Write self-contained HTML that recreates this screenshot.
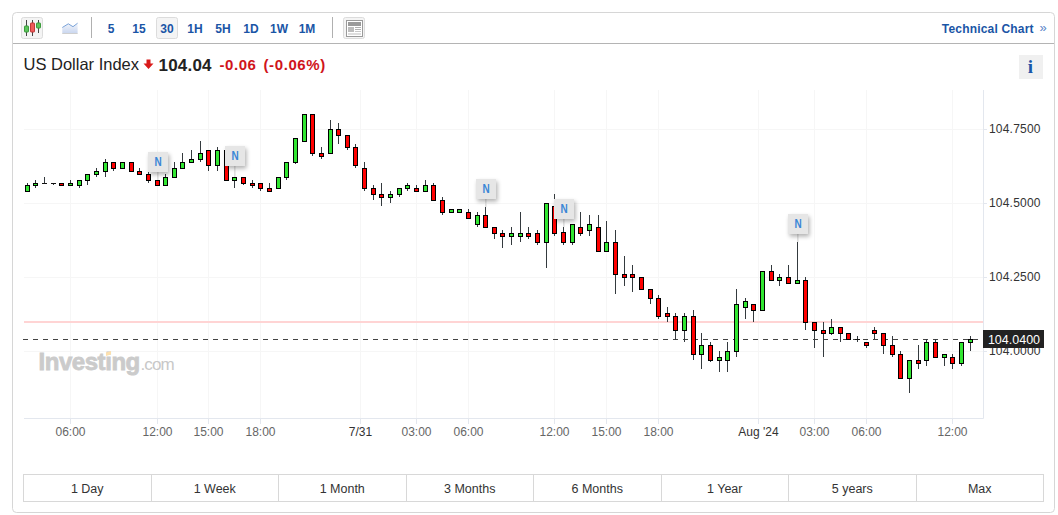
<!DOCTYPE html>
<html><head><meta charset="utf-8">
<style>
html,body{margin:0;padding:0;background:#fff;width:1058px;height:515px;overflow:hidden}
svg{display:block}
text{font-family:"Liberation Sans",sans-serif}
.tb{font-size:12px;font-weight:bold;fill:#1a55a6}
.nn{font-size:12.5px;font-weight:bold;fill:#3a86d6}
.tl{font-size:12px;fill:#666}
.tld{font-size:12px;fill:#333}
.pl{font-size:12px;fill:#333;letter-spacing:0.2px}
.bt{font-size:12.5px;fill:#333}
</style></head>
<body>
<svg width="1058" height="515" viewBox="0 0 1058 515">
<defs>
<filter id="blur" x="-30%" y="-30%" width="160%" height="160%"><feGaussianBlur stdDeviation="2"/></filter>
<linearGradient id="ag" x1="0" y1="0" x2="0" y2="1"><stop offset="0" stop-color="#f2f5fb"/><stop offset="1" stop-color="#c9d6ef"/></linearGradient>
</defs>
<!-- container -->
<rect x="12.5" y="12.5" width="1042" height="500" rx="4" fill="#fff" stroke="#d6d6d6"/>
<line x1="13" y1="43.5" x2="1054" y2="43.5" stroke="#b4b4b4"/>

<!-- toolbar: candle icon -->
<rect x="21.5" y="17.5" width="21" height="21" rx="2" fill="#f4f4f4" stroke="#dcdcdc"/>
<rect x="26" y="20" width="1" height="16" fill="#444"/>
<rect x="24.5" y="26" width="4" height="6" rx="0.5" fill="#5cc45c" stroke="#3c9c3c"/>
<rect x="32" y="20" width="1" height="16" fill="#444"/>
<rect x="30.5" y="23" width="4" height="9" rx="0.5" fill="#f05a5a" stroke="#c03a3a"/>
<rect x="38" y="20" width="1" height="13" fill="#444"/>
<rect x="36.5" y="23" width="4" height="5" rx="0.5" fill="#5cc45c" stroke="#3c9c3c"/>

<!-- area icon -->
<path d="M62.3 27.5 L68.3 23.8 L73 26.7 L77.6 23.2 L77.6 33.5 L62.3 33.5 Z" fill="url(#ag)"/>
<polyline points="62.3,27.5 68.3,23.8 73,26.7 77.6,23.2" fill="none" stroke="#7aa2d8" stroke-width="1"/>
<rect x="62.3" y="33" width="15.3" height="1" fill="#cfcfcf"/>

<rect x="91" y="17" width="1" height="21" fill="#b0b0b0"/>

<text x="111" y="33" text-anchor="middle" class="tb">5</text>
<text x="139" y="33" text-anchor="middle" class="tb">15</text>
<rect x="156.5" y="17.5" width="21" height="21" rx="2" fill="#f4f4f4" stroke="#dcdcdc"/>
<text x="167" y="33" text-anchor="middle" class="tb">30</text>
<text x="195" y="33" text-anchor="middle" class="tb">1H</text>
<text x="223" y="33" text-anchor="middle" class="tb">5H</text>
<text x="251" y="33" text-anchor="middle" class="tb">1D</text>
<text x="279" y="33" text-anchor="middle" class="tb">1W</text>
<text x="307" y="33" text-anchor="middle" class="tb">1M</text>

<rect x="332" y="17" width="1" height="21" fill="#b0b0b0"/>

<!-- layout icon -->
<rect x="343.5" y="17.5" width="21" height="21" rx="2" fill="#f4f4f4" stroke="#dcdcdc"/>
<rect x="346.5" y="20.5" width="16" height="16" fill="#fff" stroke="#9a9a9a"/>
<rect x="348" y="22" width="13" height="4" fill="#9a9a9a"/>
<rect x="348" y="27" width="6" height="5" fill="#bdbdbd"/>
<rect x="355" y="27" width="6" height="1" fill="#b0b0b0"/>
<rect x="355" y="29" width="6" height="1" fill="#b0b0b0"/>
<rect x="355" y="31" width="6" height="1" fill="#c8c8c8"/>
<rect x="348" y="33" width="13" height="2" fill="#dedede"/>

<text x="1033.7" y="33" text-anchor="end" class="tb" style="letter-spacing:0.18px">Technical Chart</text>
<text x="1043" y="32" text-anchor="middle" style="font-size:13px;fill:#5a86c8">»</text>

<!-- title -->
<text x="23.5" y="70" style="font-size:16.5px;fill:#222;letter-spacing:0px">US Dollar Index</text>
<path d="M146.5 59.5 H150.5 V63.5 H153.5 L148.5 69 L143.5 63.5 H146.5 Z" fill="#d91a1a"/>
<text x="158.5" y="70.5" style="font-size:17px;font-weight:bold;fill:#222;letter-spacing:0.2px">104.04</text>
<text x="219.5" y="70" style="font-size:15px;font-weight:bold;fill:#d0141b;letter-spacing:0.55px">-0.06</text>
<text x="263.5" y="70" style="font-size:15px;font-weight:bold;fill:#d0141b;letter-spacing:0.6px">(-0.06%)</text>

<rect x="1019" y="55" width="24" height="24" fill="#f0f0f0"/>
<text x="1030.5" y="73" text-anchor="middle" style="font-family:'Liberation Serif',serif;font-size:19px;font-weight:bold;fill:#1b56a8">i</text>

<!-- chart grid -->
<line x1="70.5" y1="90" x2="70.5" y2="418" stroke="#f6f6f6" stroke-width="1"/>
<line x1="70.5" y1="418" x2="70.5" y2="424" stroke="#e3e7ee" stroke-width="1"/>
<line x1="157.5" y1="90" x2="157.5" y2="418" stroke="#f6f6f6" stroke-width="1"/>
<line x1="157.5" y1="418" x2="157.5" y2="424" stroke="#e3e7ee" stroke-width="1"/>
<line x1="208.5" y1="90" x2="208.5" y2="418" stroke="#f6f6f6" stroke-width="1"/>
<line x1="208.5" y1="418" x2="208.5" y2="424" stroke="#e3e7ee" stroke-width="1"/>
<line x1="260.5" y1="90" x2="260.5" y2="418" stroke="#f6f6f6" stroke-width="1"/>
<line x1="260.5" y1="418" x2="260.5" y2="424" stroke="#e3e7ee" stroke-width="1"/>
<line x1="360.5" y1="90" x2="360.5" y2="418" stroke="#f6f6f6" stroke-width="1"/>
<line x1="360.5" y1="418" x2="360.5" y2="424" stroke="#e3e7ee" stroke-width="1"/>
<line x1="416.5" y1="90" x2="416.5" y2="418" stroke="#f6f6f6" stroke-width="1"/>
<line x1="416.5" y1="418" x2="416.5" y2="424" stroke="#e3e7ee" stroke-width="1"/>
<line x1="468.5" y1="90" x2="468.5" y2="418" stroke="#f6f6f6" stroke-width="1"/>
<line x1="468.5" y1="418" x2="468.5" y2="424" stroke="#e3e7ee" stroke-width="1"/>
<line x1="554.5" y1="90" x2="554.5" y2="418" stroke="#f6f6f6" stroke-width="1"/>
<line x1="554.5" y1="418" x2="554.5" y2="424" stroke="#e3e7ee" stroke-width="1"/>
<line x1="606.5" y1="90" x2="606.5" y2="418" stroke="#f6f6f6" stroke-width="1"/>
<line x1="606.5" y1="418" x2="606.5" y2="424" stroke="#e3e7ee" stroke-width="1"/>
<line x1="658.5" y1="90" x2="658.5" y2="418" stroke="#f6f6f6" stroke-width="1"/>
<line x1="658.5" y1="418" x2="658.5" y2="424" stroke="#e3e7ee" stroke-width="1"/>
<line x1="758.5" y1="90" x2="758.5" y2="418" stroke="#f6f6f6" stroke-width="1"/>
<line x1="758.5" y1="418" x2="758.5" y2="424" stroke="#e3e7ee" stroke-width="1"/>
<line x1="814.5" y1="90" x2="814.5" y2="418" stroke="#f6f6f6" stroke-width="1"/>
<line x1="814.5" y1="418" x2="814.5" y2="424" stroke="#e3e7ee" stroke-width="1"/>
<line x1="866.5" y1="90" x2="866.5" y2="418" stroke="#f6f6f6" stroke-width="1"/>
<line x1="866.5" y1="418" x2="866.5" y2="424" stroke="#e3e7ee" stroke-width="1"/>
<line x1="952.5" y1="90" x2="952.5" y2="418" stroke="#f6f6f6" stroke-width="1"/>
<line x1="952.5" y1="418" x2="952.5" y2="424" stroke="#e3e7ee" stroke-width="1"/>
<line x1="24" y1="129.5" x2="983" y2="129.5" stroke="#f6f6f6" stroke-width="1"/>
<line x1="983" y1="129.5" x2="987" y2="129.5" stroke="#e3e7ee" stroke-width="1"/>
<line x1="24" y1="203.5" x2="983" y2="203.5" stroke="#f6f6f6" stroke-width="1"/>
<line x1="983" y1="203.5" x2="987" y2="203.5" stroke="#e3e7ee" stroke-width="1"/>
<line x1="24" y1="277.5" x2="983" y2="277.5" stroke="#f6f6f6" stroke-width="1"/>
<line x1="983" y1="277.5" x2="987" y2="277.5" stroke="#e3e7ee" stroke-width="1"/>
<line x1="24" y1="351.5" x2="983" y2="351.5" stroke="#f6f6f6" stroke-width="1"/>
<line x1="983" y1="351.5" x2="987" y2="351.5" stroke="#e3e7ee" stroke-width="1"/>
<line x1="24" y1="418.5" x2="983.5" y2="418.5" stroke="#e3e7ee"/>
<line x1="983.5" y1="90" x2="983.5" y2="418.5" stroke="#e3e7ee"/>

<!-- watermark -->
<text x="38.5" y="370" style="font-size:24px;font-weight:bold;fill:#cbcbcb;stroke:#cbcbcb;stroke-width:0.8px;letter-spacing:-0.45px">Investing</text>
<text x="140.5" y="370" style="font-size:17px;fill:#c8c8c8;letter-spacing:-0.9px">.com</text>

<polygon points="106,352.8 111,351 111,354.4 106,356" fill="#fde0ad"/>
<!-- pink line -->
<line x1="24" y1="322" x2="983" y2="322" stroke="#ffd4d4" stroke-width="2"/>

<line x1="23" y1="339.5" x2="978" y2="339.5" stroke="#444" stroke-dasharray="5,5"/>

<g shape-rendering="crispEdges">
<rect x="27" y="183" width="1" height="9" fill="#343a3e"/>
<rect x="25" y="185" width="5" height="7" fill="#000"/>
<rect x="26" y="186" width="3" height="5" fill="#32e632"/>
<rect x="35" y="180" width="1" height="8" fill="#343a3e"/>
<rect x="33" y="183" width="5" height="3" fill="#000"/>
<rect x="34" y="184" width="3" height="1" fill="#32e632"/>
<rect x="44" y="177" width="1" height="7" fill="#343a3e"/>
<rect x="42" y="183" width="5" height="1" fill="#111"/>
<rect x="53" y="184" width="1" height="1" fill="#343a3e"/>
<rect x="51" y="183" width="5" height="1" fill="#111"/>
<rect x="61" y="183" width="1" height="3" fill="#343a3e"/>
<rect x="59" y="183" width="5" height="3" fill="#000"/>
<rect x="60" y="184" width="3" height="1" fill="#ff0000"/>
<rect x="70" y="180" width="1" height="6" fill="#343a3e"/>
<rect x="68" y="183" width="5" height="3" fill="#000"/>
<rect x="69" y="184" width="3" height="1" fill="#32e632"/>
<rect x="79" y="180" width="1" height="8" fill="#343a3e"/>
<rect x="77" y="180" width="5" height="6" fill="#000"/>
<rect x="78" y="181" width="3" height="4" fill="#32e632"/>
<rect x="87" y="174" width="1" height="11" fill="#343a3e"/>
<rect x="85" y="174" width="5" height="7" fill="#000"/>
<rect x="86" y="175" width="3" height="5" fill="#32e632"/>
<rect x="96" y="168" width="1" height="9" fill="#343a3e"/>
<rect x="94" y="171" width="5" height="4" fill="#000"/>
<rect x="95" y="172" width="3" height="2" fill="#32e632"/>
<rect x="105" y="159" width="1" height="18" fill="#343a3e"/>
<rect x="103" y="162" width="5" height="10" fill="#000"/>
<rect x="104" y="163" width="3" height="8" fill="#32e632"/>
<rect x="113" y="162" width="1" height="9" fill="#343a3e"/>
<rect x="111" y="162" width="5" height="7" fill="#000"/>
<rect x="112" y="163" width="3" height="5" fill="#ff0000"/>
<rect x="122" y="162" width="1" height="7" fill="#343a3e"/>
<rect x="120" y="162" width="5" height="7" fill="#000"/>
<rect x="121" y="163" width="3" height="5" fill="#32e632"/>
<rect x="131" y="162" width="1" height="10" fill="#343a3e"/>
<rect x="129" y="162" width="5" height="10" fill="#000"/>
<rect x="130" y="163" width="3" height="8" fill="#ff0000"/>
<rect x="139" y="168" width="1" height="7" fill="#343a3e"/>
<rect x="137" y="171" width="5" height="4" fill="#000"/>
<rect x="138" y="172" width="3" height="2" fill="#ff0000"/>
<rect x="148" y="172" width="1" height="11" fill="#343a3e"/>
<rect x="146" y="174" width="5" height="7" fill="#000"/>
<rect x="147" y="175" width="3" height="5" fill="#ff0000"/>
<rect x="157" y="180" width="1" height="6" fill="#343a3e"/>
<rect x="155" y="180" width="5" height="6" fill="#000"/>
<rect x="156" y="181" width="3" height="4" fill="#ff0000"/>
<rect x="165" y="174" width="1" height="12" fill="#343a3e"/>
<rect x="163" y="177" width="5" height="9" fill="#000"/>
<rect x="164" y="178" width="3" height="7" fill="#32e632"/>
<rect x="174" y="162" width="1" height="15" fill="#343a3e"/>
<rect x="172" y="168" width="5" height="10" fill="#000"/>
<rect x="173" y="169" width="3" height="8" fill="#32e632"/>
<rect x="182" y="153" width="1" height="16" fill="#343a3e"/>
<rect x="180" y="162" width="5" height="7" fill="#000"/>
<rect x="181" y="163" width="3" height="5" fill="#32e632"/>
<rect x="191" y="150" width="1" height="13" fill="#343a3e"/>
<rect x="189" y="159" width="5" height="4" fill="#000"/>
<rect x="190" y="160" width="3" height="2" fill="#32e632"/>
<rect x="200" y="141" width="1" height="21" fill="#343a3e"/>
<rect x="198" y="153" width="5" height="7" fill="#000"/>
<rect x="199" y="154" width="3" height="5" fill="#32e632"/>
<rect x="208" y="150" width="1" height="21" fill="#343a3e"/>
<rect x="206" y="150" width="5" height="16" fill="#000"/>
<rect x="207" y="151" width="3" height="14" fill="#ff0000"/>
<rect x="217" y="147" width="1" height="24" fill="#343a3e"/>
<rect x="215" y="150" width="5" height="16" fill="#000"/>
<rect x="216" y="151" width="3" height="14" fill="#32e632"/>
<rect x="226" y="150" width="1" height="30" fill="#343a3e"/>
<rect x="224" y="150" width="5" height="31" fill="#000"/>
<rect x="225" y="151" width="3" height="29" fill="#ff0000"/>
<rect x="234" y="174" width="1" height="14" fill="#343a3e"/>
<rect x="232" y="177" width="5" height="4" fill="#000"/>
<rect x="233" y="178" width="3" height="2" fill="#32e632"/>
<rect x="243" y="177" width="1" height="8" fill="#343a3e"/>
<rect x="241" y="177" width="5" height="7" fill="#000"/>
<rect x="242" y="178" width="3" height="5" fill="#ff0000"/>
<rect x="252" y="180" width="1" height="8" fill="#343a3e"/>
<rect x="250" y="183" width="5" height="3" fill="#000"/>
<rect x="251" y="184" width="3" height="1" fill="#ff0000"/>
<rect x="260" y="183" width="1" height="8" fill="#343a3e"/>
<rect x="258" y="183" width="5" height="6" fill="#000"/>
<rect x="259" y="184" width="3" height="4" fill="#ff0000"/>
<rect x="269" y="183" width="1" height="9" fill="#343a3e"/>
<rect x="267" y="188" width="5" height="4" fill="#000"/>
<rect x="268" y="189" width="3" height="2" fill="#ff0000"/>
<rect x="278" y="177" width="1" height="12" fill="#343a3e"/>
<rect x="276" y="177" width="5" height="12" fill="#000"/>
<rect x="277" y="178" width="3" height="10" fill="#32e632"/>
<rect x="286" y="162" width="1" height="18" fill="#343a3e"/>
<rect x="284" y="162" width="5" height="16" fill="#000"/>
<rect x="285" y="163" width="3" height="14" fill="#32e632"/>
<rect x="295" y="138" width="1" height="26" fill="#343a3e"/>
<rect x="293" y="138" width="5" height="25" fill="#000"/>
<rect x="294" y="139" width="3" height="23" fill="#32e632"/>
<rect x="304" y="114" width="1" height="28" fill="#343a3e"/>
<rect x="302" y="114" width="5" height="28" fill="#000"/>
<rect x="303" y="115" width="3" height="26" fill="#32e632"/>
<rect x="312" y="114" width="1" height="42" fill="#343a3e"/>
<rect x="310" y="114" width="5" height="40" fill="#000"/>
<rect x="311" y="115" width="3" height="38" fill="#ff0000"/>
<rect x="321" y="147" width="1" height="12" fill="#343a3e"/>
<rect x="319" y="153" width="5" height="4" fill="#000"/>
<rect x="320" y="154" width="3" height="2" fill="#ff0000"/>
<rect x="330" y="120" width="1" height="34" fill="#343a3e"/>
<rect x="328" y="129" width="5" height="25" fill="#000"/>
<rect x="329" y="130" width="3" height="23" fill="#32e632"/>
<rect x="338" y="123" width="1" height="21" fill="#343a3e"/>
<rect x="336" y="129" width="5" height="7" fill="#000"/>
<rect x="337" y="130" width="3" height="5" fill="#ff0000"/>
<rect x="347" y="135" width="1" height="15" fill="#343a3e"/>
<rect x="345" y="135" width="5" height="13" fill="#000"/>
<rect x="346" y="136" width="3" height="11" fill="#ff0000"/>
<rect x="355" y="144" width="1" height="24" fill="#343a3e"/>
<rect x="353" y="147" width="5" height="19" fill="#000"/>
<rect x="354" y="148" width="3" height="17" fill="#ff0000"/>
<rect x="364" y="162" width="1" height="29" fill="#343a3e"/>
<rect x="362" y="168" width="5" height="21" fill="#000"/>
<rect x="363" y="169" width="3" height="19" fill="#ff0000"/>
<rect x="373" y="185" width="1" height="15" fill="#343a3e"/>
<rect x="371" y="188" width="5" height="7" fill="#000"/>
<rect x="372" y="189" width="3" height="5" fill="#ff0000"/>
<rect x="381" y="183" width="1" height="23" fill="#343a3e"/>
<rect x="379" y="194" width="5" height="4" fill="#000"/>
<rect x="380" y="195" width="3" height="2" fill="#ff0000"/>
<rect x="390" y="191" width="1" height="12" fill="#343a3e"/>
<rect x="388" y="194" width="5" height="4" fill="#000"/>
<rect x="389" y="195" width="3" height="2" fill="#32e632"/>
<rect x="399" y="188" width="1" height="9" fill="#343a3e"/>
<rect x="397" y="188" width="5" height="7" fill="#000"/>
<rect x="398" y="189" width="3" height="5" fill="#32e632"/>
<rect x="407" y="183" width="1" height="8" fill="#343a3e"/>
<rect x="405" y="185" width="5" height="4" fill="#000"/>
<rect x="406" y="186" width="3" height="2" fill="#32e632"/>
<rect x="416" y="185" width="1" height="7" fill="#343a3e"/>
<rect x="414" y="188" width="5" height="4" fill="#000"/>
<rect x="415" y="189" width="3" height="2" fill="#ff0000"/>
<rect x="425" y="180" width="1" height="12" fill="#343a3e"/>
<rect x="423" y="185" width="5" height="7" fill="#000"/>
<rect x="424" y="186" width="3" height="5" fill="#32e632"/>
<rect x="433" y="183" width="1" height="18" fill="#343a3e"/>
<rect x="431" y="185" width="5" height="16" fill="#000"/>
<rect x="432" y="186" width="3" height="14" fill="#ff0000"/>
<rect x="442" y="197" width="1" height="18" fill="#343a3e"/>
<rect x="440" y="200" width="5" height="13" fill="#000"/>
<rect x="441" y="201" width="3" height="11" fill="#ff0000"/>
<rect x="451" y="209" width="1" height="4" fill="#343a3e"/>
<rect x="449" y="209" width="5" height="4" fill="#000"/>
<rect x="450" y="210" width="3" height="2" fill="#32e632"/>
<rect x="459" y="209" width="1" height="4" fill="#343a3e"/>
<rect x="457" y="209" width="5" height="4" fill="#000"/>
<rect x="458" y="210" width="3" height="2" fill="#32e632"/>
<rect x="468" y="209" width="1" height="10" fill="#343a3e"/>
<rect x="466" y="212" width="5" height="7" fill="#000"/>
<rect x="467" y="213" width="3" height="5" fill="#ff0000"/>
<rect x="477" y="212" width="1" height="15" fill="#343a3e"/>
<rect x="475" y="215" width="5" height="10" fill="#000"/>
<rect x="476" y="216" width="3" height="8" fill="#32e632"/>
<rect x="485" y="207" width="1" height="21" fill="#343a3e"/>
<rect x="483" y="215" width="5" height="13" fill="#000"/>
<rect x="484" y="216" width="3" height="11" fill="#ff0000"/>
<rect x="494" y="228" width="1" height="11" fill="#343a3e"/>
<rect x="492" y="227" width="5" height="7" fill="#000"/>
<rect x="493" y="228" width="3" height="5" fill="#ff0000"/>
<rect x="502" y="230" width="1" height="18" fill="#343a3e"/>
<rect x="500" y="233" width="5" height="4" fill="#000"/>
<rect x="501" y="234" width="3" height="2" fill="#ff0000"/>
<rect x="511" y="227" width="1" height="18" fill="#343a3e"/>
<rect x="509" y="233" width="5" height="4" fill="#000"/>
<rect x="510" y="234" width="3" height="2" fill="#32e632"/>
<rect x="520" y="212" width="1" height="30" fill="#343a3e"/>
<rect x="518" y="233" width="5" height="4" fill="#000"/>
<rect x="519" y="234" width="3" height="2" fill="#32e632"/>
<rect x="528" y="227" width="1" height="12" fill="#343a3e"/>
<rect x="526" y="233" width="5" height="4" fill="#000"/>
<rect x="527" y="234" width="3" height="2" fill="#ff0000"/>
<rect x="537" y="230" width="1" height="15" fill="#343a3e"/>
<rect x="535" y="233" width="5" height="10" fill="#000"/>
<rect x="536" y="234" width="3" height="8" fill="#ff0000"/>
<rect x="546" y="203" width="1" height="65" fill="#343a3e"/>
<rect x="544" y="203" width="5" height="40" fill="#000"/>
<rect x="545" y="204" width="3" height="38" fill="#32e632"/>
<rect x="554" y="194" width="1" height="42" fill="#343a3e"/>
<rect x="552" y="206" width="5" height="28" fill="#000"/>
<rect x="553" y="207" width="3" height="26" fill="#ff0000"/>
<rect x="563" y="227" width="1" height="18" fill="#343a3e"/>
<rect x="561" y="232" width="5" height="11" fill="#000"/>
<rect x="562" y="233" width="3" height="9" fill="#ff0000"/>
<rect x="572" y="224" width="1" height="21" fill="#343a3e"/>
<rect x="570" y="224" width="5" height="19" fill="#000"/>
<rect x="571" y="225" width="3" height="17" fill="#32e632"/>
<rect x="580" y="212" width="1" height="24" fill="#343a3e"/>
<rect x="578" y="227" width="5" height="7" fill="#000"/>
<rect x="579" y="228" width="3" height="5" fill="#ff0000"/>
<rect x="589" y="215" width="1" height="21" fill="#343a3e"/>
<rect x="587" y="224" width="5" height="7" fill="#000"/>
<rect x="588" y="225" width="3" height="5" fill="#32e632"/>
<rect x="598" y="215" width="1" height="37" fill="#343a3e"/>
<rect x="596" y="227" width="5" height="25" fill="#000"/>
<rect x="597" y="228" width="3" height="23" fill="#ff0000"/>
<rect x="606" y="221" width="1" height="31" fill="#343a3e"/>
<rect x="604" y="242" width="5" height="10" fill="#000"/>
<rect x="605" y="243" width="3" height="8" fill="#32e632"/>
<rect x="615" y="230" width="1" height="64" fill="#343a3e"/>
<rect x="613" y="242" width="5" height="33" fill="#000"/>
<rect x="614" y="243" width="3" height="31" fill="#ff0000"/>
<rect x="624" y="256" width="1" height="30" fill="#343a3e"/>
<rect x="622" y="274" width="5" height="4" fill="#000"/>
<rect x="623" y="275" width="3" height="2" fill="#ff0000"/>
<rect x="632" y="265" width="1" height="27" fill="#343a3e"/>
<rect x="630" y="274" width="5" height="4" fill="#000"/>
<rect x="631" y="275" width="3" height="2" fill="#ff0000"/>
<rect x="641" y="277" width="1" height="12" fill="#343a3e"/>
<rect x="639" y="277" width="5" height="13" fill="#000"/>
<rect x="640" y="278" width="3" height="11" fill="#ff0000"/>
<rect x="650" y="289" width="1" height="15" fill="#343a3e"/>
<rect x="648" y="289" width="5" height="10" fill="#000"/>
<rect x="649" y="290" width="3" height="8" fill="#ff0000"/>
<rect x="658" y="295" width="1" height="24" fill="#343a3e"/>
<rect x="656" y="298" width="5" height="19" fill="#000"/>
<rect x="657" y="299" width="3" height="17" fill="#ff0000"/>
<rect x="667" y="307" width="1" height="15" fill="#343a3e"/>
<rect x="665" y="313" width="5" height="4" fill="#000"/>
<rect x="666" y="314" width="3" height="2" fill="#ff0000"/>
<rect x="675" y="313" width="1" height="27" fill="#343a3e"/>
<rect x="673" y="316" width="5" height="15" fill="#000"/>
<rect x="674" y="317" width="3" height="13" fill="#ff0000"/>
<rect x="684" y="313" width="1" height="29" fill="#343a3e"/>
<rect x="682" y="316" width="5" height="15" fill="#000"/>
<rect x="683" y="317" width="3" height="13" fill="#32e632"/>
<rect x="693" y="310" width="1" height="50" fill="#343a3e"/>
<rect x="691" y="316" width="5" height="39" fill="#000"/>
<rect x="692" y="317" width="3" height="37" fill="#ff0000"/>
<rect x="701" y="333" width="1" height="36" fill="#343a3e"/>
<rect x="699" y="345" width="5" height="10" fill="#000"/>
<rect x="700" y="346" width="3" height="8" fill="#32e632"/>
<rect x="710" y="342" width="1" height="20" fill="#343a3e"/>
<rect x="708" y="345" width="5" height="16" fill="#000"/>
<rect x="709" y="346" width="3" height="14" fill="#ff0000"/>
<rect x="719" y="351" width="1" height="21" fill="#343a3e"/>
<rect x="717" y="357" width="5" height="4" fill="#000"/>
<rect x="718" y="358" width="3" height="2" fill="#32e632"/>
<rect x="727" y="342" width="1" height="30" fill="#343a3e"/>
<rect x="725" y="351" width="5" height="10" fill="#000"/>
<rect x="726" y="352" width="3" height="8" fill="#32e632"/>
<rect x="736" y="289" width="1" height="68" fill="#343a3e"/>
<rect x="734" y="304" width="5" height="48" fill="#000"/>
<rect x="735" y="305" width="3" height="46" fill="#32e632"/>
<rect x="745" y="298" width="1" height="21" fill="#343a3e"/>
<rect x="743" y="301" width="5" height="7" fill="#000"/>
<rect x="744" y="302" width="3" height="5" fill="#32e632"/>
<rect x="753" y="304" width="1" height="18" fill="#343a3e"/>
<rect x="751" y="304" width="5" height="7" fill="#000"/>
<rect x="752" y="305" width="3" height="5" fill="#ff0000"/>
<rect x="762" y="271" width="1" height="40" fill="#343a3e"/>
<rect x="760" y="271" width="5" height="40" fill="#000"/>
<rect x="761" y="272" width="3" height="38" fill="#32e632"/>
<rect x="771" y="265" width="1" height="16" fill="#343a3e"/>
<rect x="769" y="271" width="5" height="10" fill="#000"/>
<rect x="770" y="272" width="3" height="8" fill="#ff0000"/>
<rect x="779" y="274" width="1" height="12" fill="#343a3e"/>
<rect x="777" y="277" width="5" height="4" fill="#000"/>
<rect x="778" y="278" width="3" height="2" fill="#32e632"/>
<rect x="788" y="265" width="1" height="19" fill="#343a3e"/>
<rect x="786" y="277" width="5" height="7" fill="#000"/>
<rect x="787" y="278" width="3" height="5" fill="#ff0000"/>
<rect x="797" y="242" width="1" height="41" fill="#343a3e"/>
<rect x="795" y="280" width="5" height="4" fill="#000"/>
<rect x="796" y="281" width="3" height="2" fill="#32e632"/>
<rect x="805" y="277" width="1" height="53" fill="#343a3e"/>
<rect x="803" y="280" width="5" height="43" fill="#000"/>
<rect x="804" y="281" width="3" height="41" fill="#ff0000"/>
<rect x="814" y="322" width="1" height="26" fill="#343a3e"/>
<rect x="812" y="322" width="5" height="9" fill="#000"/>
<rect x="813" y="323" width="3" height="7" fill="#ff0000"/>
<rect x="823" y="322" width="1" height="35" fill="#343a3e"/>
<rect x="821" y="330" width="5" height="4" fill="#000"/>
<rect x="822" y="331" width="3" height="2" fill="#ff0000"/>
<rect x="831" y="319" width="1" height="16" fill="#343a3e"/>
<rect x="829" y="327" width="5" height="7" fill="#000"/>
<rect x="830" y="328" width="3" height="5" fill="#32e632"/>
<rect x="840" y="328" width="1" height="14" fill="#343a3e"/>
<rect x="838" y="327" width="5" height="7" fill="#000"/>
<rect x="839" y="328" width="3" height="5" fill="#ff0000"/>
<rect x="848" y="333" width="1" height="6" fill="#343a3e"/>
<rect x="846" y="333" width="5" height="7" fill="#000"/>
<rect x="847" y="334" width="3" height="5" fill="#ff0000"/>
<rect x="857" y="336" width="1" height="6" fill="#343a3e"/>
<rect x="855" y="339" width="5" height="1" fill="#111"/>
<rect x="866" y="342" width="1" height="6" fill="#343a3e"/>
<rect x="864" y="342" width="5" height="4" fill="#000"/>
<rect x="865" y="343" width="3" height="2" fill="#ff0000"/>
<rect x="874" y="327" width="1" height="12" fill="#343a3e"/>
<rect x="872" y="330" width="5" height="4" fill="#000"/>
<rect x="873" y="331" width="3" height="2" fill="#ff0000"/>
<rect x="883" y="333" width="1" height="21" fill="#343a3e"/>
<rect x="881" y="333" width="5" height="13" fill="#000"/>
<rect x="882" y="334" width="3" height="11" fill="#ff0000"/>
<rect x="892" y="336" width="1" height="21" fill="#343a3e"/>
<rect x="890" y="345" width="5" height="10" fill="#000"/>
<rect x="891" y="346" width="3" height="8" fill="#ff0000"/>
<rect x="900" y="351" width="1" height="28" fill="#343a3e"/>
<rect x="898" y="354" width="5" height="25" fill="#000"/>
<rect x="899" y="355" width="3" height="23" fill="#ff0000"/>
<rect x="909" y="361" width="1" height="32" fill="#343a3e"/>
<rect x="907" y="360" width="5" height="19" fill="#000"/>
<rect x="908" y="361" width="3" height="17" fill="#32e632"/>
<rect x="918" y="345" width="1" height="24" fill="#343a3e"/>
<rect x="916" y="360" width="5" height="4" fill="#000"/>
<rect x="917" y="361" width="3" height="2" fill="#ff0000"/>
<rect x="926" y="339" width="1" height="27" fill="#343a3e"/>
<rect x="924" y="342" width="5" height="19" fill="#000"/>
<rect x="925" y="343" width="3" height="17" fill="#32e632"/>
<rect x="935" y="339" width="1" height="18" fill="#343a3e"/>
<rect x="933" y="342" width="5" height="16" fill="#000"/>
<rect x="934" y="343" width="3" height="14" fill="#ff0000"/>
<rect x="944" y="355" width="1" height="11" fill="#343a3e"/>
<rect x="942" y="354" width="5" height="4" fill="#000"/>
<rect x="943" y="355" width="3" height="2" fill="#32e632"/>
<rect x="952" y="354" width="1" height="15" fill="#343a3e"/>
<rect x="950" y="357" width="5" height="7" fill="#000"/>
<rect x="951" y="358" width="3" height="5" fill="#ff0000"/>
<rect x="961" y="343" width="1" height="23" fill="#343a3e"/>
<rect x="959" y="342" width="5" height="22" fill="#000"/>
<rect x="960" y="343" width="3" height="20" fill="#32e632"/>
<rect x="970" y="336" width="1" height="15" fill="#343a3e"/>
<rect x="968" y="339" width="5" height="4" fill="#000"/>
<rect x="969" y="340" width="3" height="2" fill="#32e632"/>
</g>

<rect x="157" y="172" width="1.6" height="8" fill="#e0e0e0"/>
<rect x="149.5" y="154.5" width="20" height="20" fill="#000" opacity="0.3" filter="url(#blur)"/>
<rect x="148" y="152" width="20" height="20" fill="#e6e6e6"/>
<text transform="translate(158.0,166) scale(0.8,1)" x="0" y="0" text-anchor="middle" class="nn">N</text>
<rect x="234" y="166" width="1.6" height="11" fill="#e0e0e0"/>
<rect x="226.5" y="148.5" width="20" height="20" fill="#000" opacity="0.3" filter="url(#blur)"/>
<rect x="225" y="146" width="20" height="20" fill="#e6e6e6"/>
<text transform="translate(235.0,160) scale(0.8,1)" x="0" y="0" text-anchor="middle" class="nn">N</text>
<rect x="485" y="199" width="1.6" height="8" fill="#e0e0e0"/>
<rect x="477.5" y="181.5" width="20" height="20" fill="#000" opacity="0.3" filter="url(#blur)"/>
<rect x="476" y="179" width="20" height="20" fill="#e6e6e6"/>
<text transform="translate(486.0,193) scale(0.8,1)" x="0" y="0" text-anchor="middle" class="nn">N</text>
<rect x="563" y="219" width="1.6" height="8" fill="#e0e0e0"/>
<rect x="555.5" y="201.5" width="20" height="20" fill="#000" opacity="0.3" filter="url(#blur)"/>
<rect x="554" y="199" width="20" height="20" fill="#e6e6e6"/>
<text transform="translate(564.0,213) scale(0.8,1)" x="0" y="0" text-anchor="middle" class="nn">N</text>
<rect x="797" y="234" width="1.6" height="8" fill="#e0e0e0"/>
<rect x="789.5" y="216.5" width="20" height="20" fill="#000" opacity="0.3" filter="url(#blur)"/>
<rect x="788" y="214" width="20" height="20" fill="#e6e6e6"/>
<text transform="translate(798.0,228) scale(0.8,1)" x="0" y="0" text-anchor="middle" class="nn">N</text>


<text x="70.5" y="436" text-anchor="middle" class="tl">06:00</text>
<text x="157.5" y="436" text-anchor="middle" class="tl">12:00</text>
<text x="208.5" y="436" text-anchor="middle" class="tl">15:00</text>
<text x="260.5" y="436" text-anchor="middle" class="tl">18:00</text>
<text x="360.5" y="436" text-anchor="middle" class="tld">7/31</text>
<text x="416.5" y="436" text-anchor="middle" class="tl">03:00</text>
<text x="468.5" y="436" text-anchor="middle" class="tl">06:00</text>
<text x="554.5" y="436" text-anchor="middle" class="tl">12:00</text>
<text x="606.5" y="436" text-anchor="middle" class="tl">15:00</text>
<text x="658.5" y="436" text-anchor="middle" class="tl">18:00</text>
<text x="758.5" y="436" text-anchor="middle" class="tld">Aug '24</text>
<text x="814.5" y="436" text-anchor="middle" class="tl">03:00</text>
<text x="866.5" y="436" text-anchor="middle" class="tl">06:00</text>
<text x="952.5" y="436" text-anchor="middle" class="tl">12:00</text>
<text x="989" y="133.0" class="pl">104.7500</text>
<text x="989" y="207.0" class="pl">104.5000</text>
<text x="989" y="281.0" class="pl">104.2500</text>
<text x="989" y="355.0" class="pl">104.0000</text>
<rect x="983" y="330" width="61" height="18" fill="#222"/>
<text x="1014" y="344" text-anchor="middle" style="font-size:12.5px;fill:#fff">104.0400</text>

<!-- range buttons -->
<rect x="23.5" y="474.5" width="1020" height="27" fill="#fff" stroke="#d8d8d8"/>
<text x="87.25" y="493" text-anchor="middle" class="bt">1 Day</text>
<text x="214.75" y="493" text-anchor="middle" class="bt">1 Week</text>
<line x1="151.5" y1="475" x2="151.5" y2="501" stroke="#d8d8d8"/>
<text x="342.25" y="493" text-anchor="middle" class="bt">1 Month</text>
<line x1="278.5" y1="475" x2="278.5" y2="501" stroke="#d8d8d8"/>
<text x="469.75" y="493" text-anchor="middle" class="bt">3 Months</text>
<line x1="406.5" y1="475" x2="406.5" y2="501" stroke="#d8d8d8"/>
<text x="597.25" y="493" text-anchor="middle" class="bt">6 Months</text>
<line x1="533.5" y1="475" x2="533.5" y2="501" stroke="#d8d8d8"/>
<text x="724.75" y="493" text-anchor="middle" class="bt">1 Year</text>
<line x1="661.5" y1="475" x2="661.5" y2="501" stroke="#d8d8d8"/>
<text x="852.25" y="493" text-anchor="middle" class="bt">5 years</text>
<line x1="788.5" y1="475" x2="788.5" y2="501" stroke="#d8d8d8"/>
<text x="979.75" y="493" text-anchor="middle" class="bt">Max</text>
<line x1="916.5" y1="475" x2="916.5" y2="501" stroke="#d8d8d8"/>
</svg>
</body></html>
